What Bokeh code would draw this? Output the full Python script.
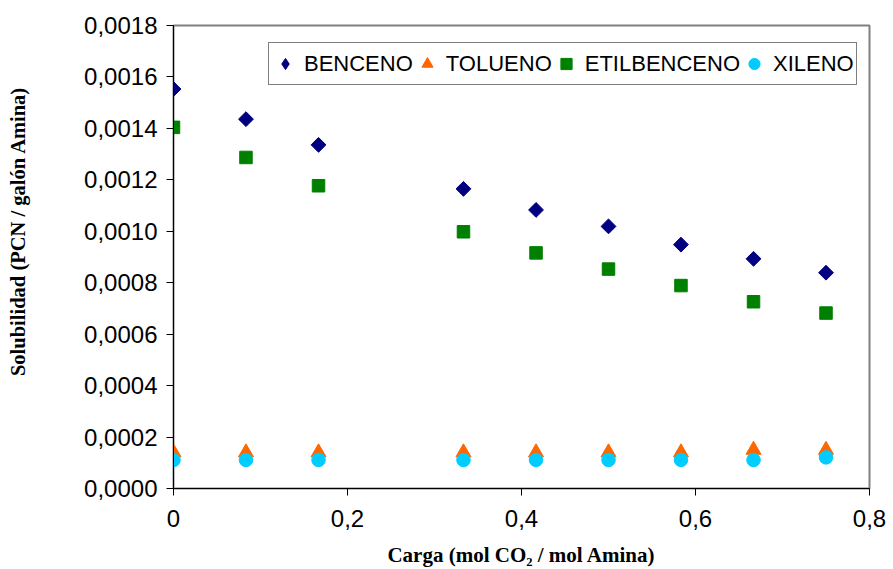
import math
from bokeh.plotting import figure
from bokeh.models import (FixedTicker, CustomJSTickFormatter, Legend, LegendItem, Range1d)
from bokeh.embed import file_html
from bokeh.resources import INLINE

# ---- data ----
carga = [0, 0.0833, 0.1667, 0.3333, 0.4167, 0.5, 0.5833, 0.6667, 0.75]
benceno = [0.001553, 0.001436, 0.001336, 0.001165, 0.001083, 0.001019, 0.000948, 0.000893, 0.000839]
tolueno = [0.000140, 0.000140, 0.000140, 0.000140, 0.000140, 0.000140, 0.000140, 0.000150, 0.000150]
etilbenceno = [0.001404, 0.001287, 0.001177, 0.000998, 0.000916, 0.000853, 0.000789, 0.000726, 0.000682]
xileno = [0.000111, 0.000111, 0.000111, 0.000111, 0.000111, 0.000111, 0.000111, 0.000111, 0.000121]

x_ticks = [0, 0.2, 0.4, 0.6, 0.8]
y_ticks = [0, 0.0002, 0.0004, 0.0006, 0.0008, 0.0010, 0.0012, 0.0014, 0.0016, 0.0018]

series_names = ["BENCENO", "TOLUENO", "ETILBENCENO", "XILENO"]
x_title = "Carga (mol CO\u2082 / mol Amina)"
y_title = "Solubilidad (PCN / gal\u00f3n Amina)"

p = figure(width=893, height=569, output_backend="svg", toolbar_location=None,
           x_range=Range1d(0, 0.8), y_range=Range1d(0, 0.0018),
           min_border_left=173, min_border_right=24, min_border_top=25, min_border_bottom=80)

p.background_fill_color = "white"
p.border_fill_color = "white"
p.outline_line_color = "#808080"
p.outline_line_width = 2
p.xgrid.visible = False
p.ygrid.visible = False

# legend key for the diamond symbol (drawn underneath, hidden by the rotated squares)
r1_key = p.scatter(carga, benceno, marker="diamond", size=13,
                   fill_color="#000080", line_color="#000080")
r1 = p.scatter(carga, benceno, marker="square", angle=math.pi / 4, size=10.5,
               fill_color="#000080", line_color="#000080")
r2 = p.scatter(carga, tolueno, marker="triangle", size=15,
               fill_color="#FF6600", line_color="#FF6600")
r3 = p.scatter(carga, etilbenceno, marker="square", size=12.5,
               fill_color="#008000", line_color="#008000")
r4 = p.scatter(carga, xileno, marker="circle", size=13.5,
               fill_color="#00CCFF", line_color="#00CCFF")

for ax in (p.xaxis[0], p.yaxis[0]):
    ax.axis_line_color = "black"
    ax.axis_line_width = 1
    ax.major_tick_line_color = "black"
    ax.major_tick_out = 7
    ax.major_tick_in = 0
    ax.minor_tick_line_color = None
    ax.major_label_text_font = "Liberation Sans"
    ax.major_label_text_font_size = "24px"
    ax.major_label_text_color = "black"
    ax.axis_label_text_font = "Liberation Serif"
    ax.axis_label_text_font_style = "bold"
    ax.axis_label_text_font_size = "21px"
    ax.axis_label_text_color = "black"

p.xaxis[0].ticker = FixedTicker(ticks=x_ticks)
p.yaxis[0].ticker = FixedTicker(ticks=y_ticks)
p.xaxis[0].formatter = CustomJSTickFormatter(
    code="return tick == 0 ? '0' : tick.toFixed(1).replace('.', ',');")
p.yaxis[0].formatter = CustomJSTickFormatter(
    code="return tick.toFixed(4).replace('.', ',');")
p.xaxis[0].axis_label = x_title
p.xaxis[0].major_label_standoff = 14
p.xaxis[0].axis_label_standoff = 13
p.yaxis[0].major_label_standoff = 9

# y title: leading no-break spaces lift the visible text above the frame centre,
# as it sits in the original
p.yaxis[0].axis_label = "\u00a0" * 10 + y_title
p.yaxis[0].axis_label_text_font_size = "20.5px"
p.yaxis[0].axis_label_standoff = 52

legend = Legend(items=[LegendItem(label=n, renderers=[r]) for n, r in
                       zip(series_names, [r1_key, r2, r3, r4])],
                orientation="horizontal", location=(95, 403))
legend.border_line_color = "black"
legend.border_line_width = 1
legend.background_fill_color = "white"
legend.background_fill_alpha = 1
legend.label_text_font = "Liberation Sans"
legend.label_text_font_size = "22px"
legend.label_text_color = "black"
legend.glyph_width = 28
legend.glyph_height = 37
legend.label_height = 37
legend.padding = 2
legend.spacing = 0
legend.label_standoff = 5
legend.margin = 0
p.add_layout(legend)

open("out.html", "w").write(file_html(p, INLINE))
